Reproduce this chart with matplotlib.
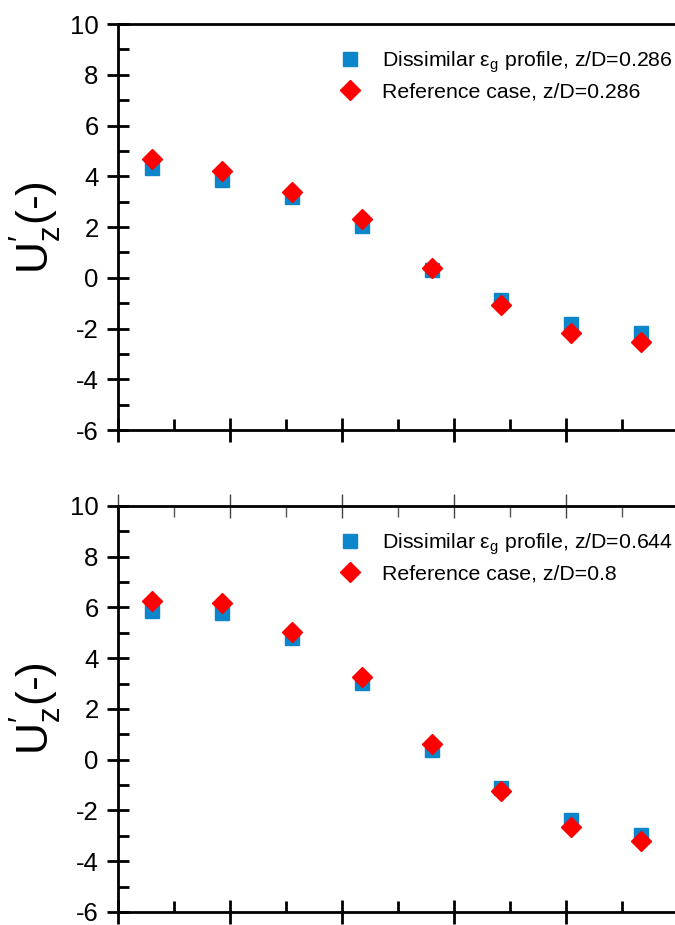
import matplotlib
matplotlib.use('Agg')
import matplotlib.pyplot as plt
from matplotlib.ticker import MultipleLocator, NullFormatter

plt.rcParams['font.family'] = ['Liberation Sans', 'DejaVu Sans']
plt.rcParams['mathtext.fontset'] = 'custom'
plt.rcParams['mathtext.rm'] = 'Liberation Sans'
plt.rcParams['mathtext.it'] = 'Liberation Sans'
plt.rcParams['axes.unicode_minus'] = False

# radial positions (no x labels shown in the original)
x_pos = [0.30, 0.93, 1.55, 2.18, 2.80, 3.42, 4.04, 4.67]

# top panel
top_dissimilar = [4.33, 3.86, 3.18, 2.05, 0.31, -0.88, -1.80, -2.16]
top_reference = [4.67, 4.22, 3.39, 2.31, 0.38, -1.06, -2.19, -2.52]
top_labels = ['Dissimilar ε$_\\mathregular{g}$ profile, z/D=0.286',
              'Reference case, z/D=0.286']

# bottom panel
bot_dissimilar = [5.84, 5.78, 4.79, 3.03, 0.39, -1.11, -2.36, -2.98]
bot_reference = [6.26, 6.17, 5.05, 3.27, 0.60, -1.22, -2.65, -3.22]
bot_labels = ['Dissimilar ε$_\\mathregular{g}$ profile, z/D=0.644',
              'Reference case, z/D=0.8']

blue = '#0B86CB'
red = '#FF0000'

fig = plt.figure(figsize=(6.75, 9.25), dpi=100)
ax_top = fig.add_axes([0.1748, 0.535, 0.8252, 0.439])
ax_bot = fig.add_axes([0.1748, 0.0141, 0.8252, 0.439])


def style_axes(ax, top_ticks):
    ax.set_xlim(0, 4.97)
    ax.set_ylim(-6, 10)
    ax.yaxis.set_major_locator(MultipleLocator(2))
    ax.yaxis.set_minor_locator(MultipleLocator(1))
    ax.xaxis.set_major_locator(MultipleLocator(1))
    ax.xaxis.set_minor_locator(MultipleLocator(0.5))
    ax.xaxis.set_major_formatter(NullFormatter())
    ax.spines['right'].set_visible(False)
    for s in ['left', 'bottom', 'top']:
        ax.spines[s].set_linewidth(2.0)
    ax.tick_params(axis='y', which='major', direction='inout', length=16, width=2,
                   labelsize=18.5, pad=6)
    ax.tick_params(axis='y', which='minor', direction='in', length=8, width=2)
    ax.tick_params(axis='x', which='major', direction='inout', length=17, width=2)
    ax.tick_params(axis='x', which='minor', direction='in', length=8, width=2)
    ax.set_ylabel(r'U$_\mathregular{z}^{\prime}$(-)', fontsize=32, labelpad=4)

    if top_ticks:
        # thinner grey ticks along the top edge of the lower panel
        sec = ax.secondary_xaxis('top')
        sec.xaxis.set_major_locator(MultipleLocator(1))
        sec.xaxis.set_minor_locator(MultipleLocator(0.5))
        sec.xaxis.set_major_formatter(NullFormatter())
        sec.spines['top'].set_visible(False)
        sec.tick_params(which='major', direction='inout', length=17, width=1,
                        color='#444444')
        sec.tick_params(which='minor', direction='in', length=8, width=1,
                        color='#555555')


for ax, yd, yr, labels, top_ticks in [
        (ax_top, top_dissimilar, top_reference, top_labels, False),
        (ax_bot, bot_dissimilar, bot_reference, bot_labels, True)]:
    ax.plot(x_pos, yd, linestyle='none', marker='s', ms=10, color=blue,
            mec=blue, label=labels[0], clip_on=False)
    ax.plot(x_pos, yr, linestyle='none', marker='D', ms=10.5, color=red,
            mec=red, label=labels[1], clip_on=False)
    style_axes(ax, top_ticks)
    ax.legend(loc='upper left', bbox_to_anchor=(0.383, 0.958), frameon=False,
              fontsize=15.3, handlelength=1.0, handletextpad=1.0,
              labelspacing=0.35, borderaxespad=0)

fig.savefig('out.png', dpi=100)
